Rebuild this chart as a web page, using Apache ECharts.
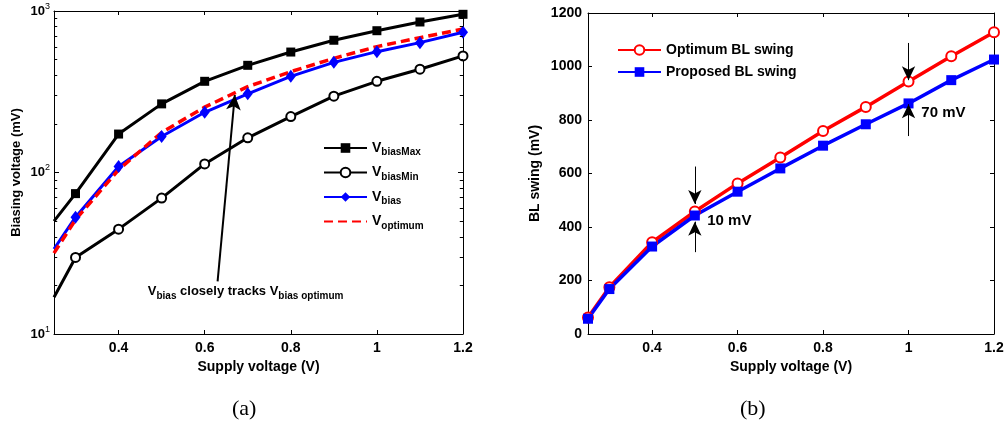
<!DOCTYPE html>
<html><head><meta charset="utf-8">
<script src="https://cdn.jsdelivr.net/npm/echarts@6/dist/echarts.min.js"></script>
<style>html,body{margin:0;padding:0;background:#fff}#c{width:1007px;height:436px}</style>
</head><body><div id="c"></div>
<script>
// ---- data (a) ----
const supplyA = [0.25, 0.3, 0.4, 0.5, 0.6, 0.7, 0.8, 0.9, 1.0, 1.1, 1.2];
const vBiasMax = [50, 74, 173, 266, 367, 461, 557, 659, 755, 855, 954];
const vBiasMin = [16.9, 29.8, 44.6, 69.4, 113, 164, 222, 297, 367, 436, 527];
const vBias = [33.6, 52.9, 109, 167, 236, 307, 394, 481, 560, 637, 738];
const vOptimum = [31.7, 51, 104, 177, 254, 340, 421, 509, 602, 684, 774];
// ---- data (b) ----
const supplyB = [0.25, 0.3, 0.4, 0.5, 0.6, 0.7, 0.8, 0.9, 1.0, 1.1, 1.2];
const optimumSwing = [62, 175, 343, 458, 563, 660, 759, 849, 944, 1038, 1128];
const proposedSwing = [57, 168, 327, 443, 532, 619, 704, 784, 862, 949, 1026];
// ---- ticks ----
const xTicks = [0.4, 0.6, 0.8, 1, 1.2];
const logMinorTicks = [20, 30, 40, 50, 60, 70, 80, 90, 200, 300, 400, 500, 600, 700, 800, 900];
const legendA = ['VbiasMax', 'VbiasMin', 'Vbias', 'Voptimum'];
const legendASub = {VbiasMax: 'biasMax', VbiasMin: 'biasMin', Vbias: 'bias', Voptimum: 'optimum'};
const legendB = ['Optimum BL swing', 'Proposed BL swing'];

const FONT = '"Liberation Sans", Arial, sans-serif';
const black = '#000';
const X_MIN = 0.25, X_MAX = 1.2, MINOR_LEN = 0.0075; // minor tick length in axis units (~3px)

function pairs(xs, ys, skipFirstSymbol) {
  return xs.map((x, i) => (skipFirstSymbol && i === 0) ? {value: [x, ys[i]], symbol: 'none'} : [x, ys[i]]);
}

function xAx(grid, pos, show) {
  return {
    type: 'value', gridIndex: grid, min: X_MIN, max: X_MAX, position: pos,
    axisLine: {show: true, onZero: false, lineStyle: {color: black, width: 1}},
    axisTick: {show: true, inside: true, length: 4, customValues: xTicks, lineStyle: {color: black}},
    axisLabel: {show: show, customValues: xTicks, margin: 7, color: black, fontFamily: FONT, fontWeight: 'bold', fontSize: 14},
    splitLine: {show: false},
    name: show ? 'Supply voltage (V)' : '', nameLocation: 'middle', nameGap: 21,
    nameTextStyle: {color: black, fontFamily: FONT, fontWeight: 'bold', fontSize: 14}
  };
}

const tickLabelStyle = {color: black, fontFamily: FONT, fontWeight: 'bold', fontSize: 14};

const minorTickLines = [];
logMinorTicks.forEach(v => {
  minorTickLines.push([{coord: [X_MIN, v]}, {coord: [X_MIN + MINOR_LEN, v]}]);
  minorTickLines.push([{coord: [X_MAX - MINOR_LEN, v]}, {coord: [X_MAX, v]}]);
});

const option = {
  animation: false,
  backgroundColor: '#fff',
  grid: [
    {left: 54, top: 11, width: 409, height: 323},
    {left: 588, top: 13, width: 406, height: 321}
  ],
  xAxis: [xAx(0, 'bottom', true), xAx(0, 'top', false), xAx(1, 'bottom', true), xAx(1, 'top', false)],
  yAxis: [
    {
      type: 'log', logBase: 10, gridIndex: 0, min: 10, max: 1000, position: 'left',
      axisLine: {show: true, lineStyle: {color: black}},
      axisTick: {show: true, inside: true, length: 5, lineStyle: {color: black}},
      splitLine: {show: false}, minorTick: {show: false},
      axisLabel: {
        margin: 4,
        formatter: v => '{b|10}{s|' + Math.round(Math.log10(v)) + '}',
        rich: {
          b: {color: black, fontFamily: FONT, fontWeight: 'bold', fontSize: 13},
          s: {color: black, fontFamily: FONT, fontWeight: 'normal', fontSize: 9, padding: [0, 0, 9, 0]}
        }
      },
      name: 'Biasing voltage (mV)', nameLocation: 'middle', nameGap: 31, nameRotate: 90,
      nameTextStyle: {color: black, fontFamily: FONT, fontWeight: 'bold', fontSize: 13}
    },
    {
      type: 'log', logBase: 10, gridIndex: 0, min: 10, max: 1000, position: 'right',
      axisLine: {show: true, lineStyle: {color: black}},
      axisTick: {show: true, inside: true, length: 5, lineStyle: {color: black}},
      axisLabel: {show: false}, splitLine: {show: false}
    },
    {
      type: 'value', gridIndex: 1, min: 0, max: 1200, interval: 200, position: 'left',
      axisLine: {show: true, lineStyle: {color: black}},
      axisTick: {show: true, inside: true, length: 4, lineStyle: {color: black}},
      axisLabel: Object.assign({margin: 6, formatter: v => String(v)}, tickLabelStyle),
      splitLine: {show: false},
      name: 'BL swing (mV)', nameLocation: 'middle', nameGap: 46, nameRotate: 90,
      nameTextStyle: {color: black, fontFamily: FONT, fontWeight: 'bold', fontSize: 14}
    },
    {
      type: 'value', gridIndex: 1, min: 0, max: 1200, interval: 200, position: 'right',
      axisLine: {show: true, lineStyle: {color: black}},
      axisTick: {show: true, inside: true, length: 4, lineStyle: {color: black}},
      axisLabel: {show: false}, splitLine: {show: false}
    }
  ],
  legend: [
    {
      data: legendA.map(n => n === 'Voptimum' ? {name: n, itemStyle: {opacity: 0}} : n),
      orient: 'vertical', left: 318, top: 136, itemGap: 8,
      itemWidth: 43, itemHeight: 12, selectedMode: false,
      formatter: n => '{v|V}{s|' + legendASub[n] + '}',
      textStyle: {
        rich: {
          v: {color: black, fontFamily: FONT, fontWeight: 'bold', fontSize: 14},
          s: {color: black, fontFamily: FONT, fontWeight: 'bold', fontSize: 10, padding: [9, 0, 0, 0]}
        }
      }
    },
    {
      data: legendB, orient: 'vertical', left: 612, top: 38, itemGap: 8,
      itemWidth: 43, itemHeight: 12, selectedMode: false,
      textStyle: {color: black, fontFamily: FONT, fontWeight: 'bold', fontSize: 14}
    }
  ],
  series: [
    {
      name: 'VbiasMax', type: 'line', xAxisIndex: 0, yAxisIndex: 0,
      data: pairs(supplyA, vBiasMax, true), symbol: 'rect', symbolSize: 9,
      lineStyle: {color: black, width: 3}, itemStyle: {color: black},
      markLine: {
        silent: true, symbol: ['none', 'none'], label: {show: false},
        lineStyle: {color: black, width: 1, type: 'solid'},
        emphasis: {disabled: true},
        data: minorTickLines
      }
    },
    {
      name: 'VbiasMin', type: 'line', xAxisIndex: 0, yAxisIndex: 0,
      data: pairs(supplyA, vBiasMin, true), symbol: 'emptyCircle', symbolSize: 9,
      lineStyle: {color: black, width: 3}, itemStyle: {color: black, borderWidth: 2.5}
    },
    {
      name: 'Vbias', type: 'line', xAxisIndex: 0, yAxisIndex: 0,
      data: pairs(supplyA, vBias, true), symbol: 'diamond', symbolSize: [10, 13],
      lineStyle: {color: '#0000ff', width: 3}, itemStyle: {color: '#0000ff'},
      markLine: {
        silent: true, symbol: ['none', 'arrow'], symbolSize: [11, 15],
        label: {show: false}, lineStyle: {color: black, width: 2, type: 'solid'},
        data: [[{coord: [0.63, 21.2]}, {coord: [0.67, 302]}]]
      },
      markPoint: {
        silent: true, symbol: 'circle', symbolSize: 0,
        data: [{coord: [0.695, 18.3], value: 0}],
        label: {
          show: true, position: 'inside',
          formatter: '{v|V}{s|bias}{v| closely tracks V}{s|bias optimum}',
          rich: {
            v: {color: black, fontFamily: FONT, fontWeight: 'bold', fontSize: 13},
            s: {color: black, fontFamily: FONT, fontWeight: 'bold', fontSize: 10, padding: [9, 0, 0, 0]}
          }
        }
      }
    },
    {
      name: 'Voptimum', type: 'line', xAxisIndex: 0, yAxisIndex: 0,
      data: pairs(supplyA, vOptimum, false), symbol: 'none', z: 3,
      lineStyle: {color: '#ff0000', width: 3.5, type: [9, 5]}, itemStyle: {color: '#ff0000'}
    },
    {
      name: 'Optimum BL swing', type: 'line', xAxisIndex: 2, yAxisIndex: 2,
      data: pairs(supplyB, optimumSwing, false), symbol: 'emptyCircle', symbolSize: 10,
      lineStyle: {color: '#ff0000', width: 3.5}, itemStyle: {color: '#ff0000', borderWidth: 2.5}
    },
    {
      name: 'Proposed BL swing', type: 'line', xAxisIndex: 2, yAxisIndex: 2,
      data: pairs(supplyB, proposedSwing, false), symbol: 'rect', symbolSize: 10,
      lineStyle: {color: '#0000ff', width: 3.5}, itemStyle: {color: '#0000ff'},
      markLine: {
        silent: true, symbol: ['none', 'arrow'], symbolSize: [10, 14],
        label: {show: false}, lineStyle: {color: black, width: 1, type: 'solid'},
        data: [
          [{coord: [0.5, 626]}, {coord: [0.5, 486]}],
          [{coord: [0.5, 306]}, {coord: [0.5, 420]}],
          [{coord: [1.0, 1088]}, {coord: [1.0, 949]}],
          [{coord: [1.0, 740]}, {coord: [1.0, 859]}]
        ]
      },
      markPoint: {
        silent: true, symbol: 'circle', symbolSize: 0,
        label: {show: true, position: 'right', distance: 0, color: black, fontFamily: FONT, fontWeight: 'bold', fontSize: 15, formatter: p => p.name},
        data: [
          {name: '10 mV', coord: [0.529, 422]},
          {name: '70 mV', coord: [1.03, 826]}
        ]
      }
    }
  ],
  graphic: [
    {type: 'text', left: 232, top: 398, style: {text: '(a)', fill: black, font: '22px "Liberation Serif", "Times New Roman", serif'}},
    {type: 'text', left: 740, top: 398, style: {text: '(b)', fill: black, font: '22px "Liberation Serif", "Times New Roman", serif'}}
  ]
};

const chart = echarts.init(document.getElementById('c'), null, {renderer: 'canvas'});
chart.setOption(option);
</script>
</body></html>
